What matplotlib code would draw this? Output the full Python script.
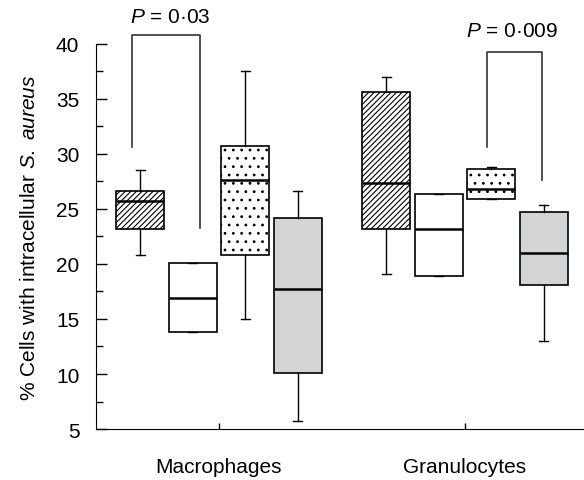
import numpy as np
import matplotlib
matplotlib.use('Agg')
from matplotlib import pyplot as plt

plt.rcParams['font.family'] = ['Liberation Sans', 'DejaVu Sans']
plt.rcParams['mathtext.fontset'] = 'custom'
plt.rcParams['mathtext.rm'] = 'Liberation Sans'
plt.rcParams['mathtext.it'] = 'Liberation Sans:italic'
plt.rcParams['hatch.linewidth'] = 0.8

groups = ['Macrophages', 'Granulocytes']
# 8 boxes: 4 per group (hatched, white, dotted, grey)
q1 = [23.2, 13.8, 20.8, 10.1, 23.2, 18.9, 25.9, 18.1]
med = [25.7, 16.9, 27.6, 17.7, 27.4, 23.2, 26.85, 21.0]
q3 = [26.6, 20.1, 30.75, 24.2, 35.6, 26.4, 28.6, 24.7]
whislo = [20.8, 13.8, 15.0, 5.75, 19.1, 18.9, 25.9, 13.0]
whishi = [28.5, 20.1, 37.5, 26.6, 37.0, 26.4, 28.8, 25.4]

hatches = ['//////', '', '..', '', '//////', '', '..', '']
faces = ['white', 'white', 'white', '#d3d4d6'] * 2

offsets = np.array([-1.5, -0.5, 0.5, 1.5]) * 0.2134
pos = np.concatenate([1 + offsets, 2 + offsets])

stats = []
for i in range(8):
    stats.append(dict(q1=q1[i], med=med[i], q3=q3[i], whislo=whislo[i],
                      whishi=whishi[i], fliers=[]))

fig = plt.figure(figsize=(5.84, 4.81), dpi=100)
ax = fig.add_axes([0.1644, 0.106, 0.8356, 0.8006])

bp = ax.bxp(stats, positions=pos, widths=0.195, patch_artist=True,
            showfliers=False,
            boxprops=dict(linewidth=1.2, edgecolor='black'),
            medianprops=dict(color='black', linewidth=1.8),
            whiskerprops=dict(color='black', linewidth=1.0),
            capprops=dict(color='black', linewidth=1.0),
            capwidths=0.035)
for b, h, fc in zip(bp['boxes'], hatches, faces):
    b.set_facecolor(fc)
    b.set_hatch(h)

ax.set_xlim(0.5, 2.484)
ax.set_ylim(5, 40)
ax.set_xticks([1, 2])
ax.set_xticklabels(groups)
ax.set_yticks(np.arange(5, 41, 5))
ax.set_yticks(np.arange(7.5, 40, 5), minor=True)
ax.tick_params(axis='y', which='major', direction='in', length=8, width=1, labelsize=15, pad=12)
ax.tick_params(axis='y', which='minor', direction='in', length=5, width=1)
ax.tick_params(axis='x', direction='in', length=4, width=1, labelsize=15, pad=20)
ax.spines['top'].set_visible(False)
ax.spines['right'].set_visible(False)
ax.set_ylabel(r'% Cells with intracellular $\it{S.\ aureus}$', fontsize=15, labelpad=12)

# significance brackets
ax.plot([0.646, 0.646, 0.924, 0.924], [30.6, 40.8, 40.8, 23.3], color='#333333',
        linewidth=1.2, clip_on=False)
ax.text(0.80, 41.6, r'$\it{P}$ = 0·03', ha='center', va='bottom', fontsize=15)
ax.plot([2.089, 2.089, 2.313, 2.313], [30.6, 39.3, 39.3, 27.6], color='#333333',
        linewidth=1.2, clip_on=False)
ax.text(2.19, 40.35, r'$\it{P}$ = 0·009', ha='center', va='bottom', fontsize=15)

plt.savefig('out.png', dpi=100)
plt.close()
